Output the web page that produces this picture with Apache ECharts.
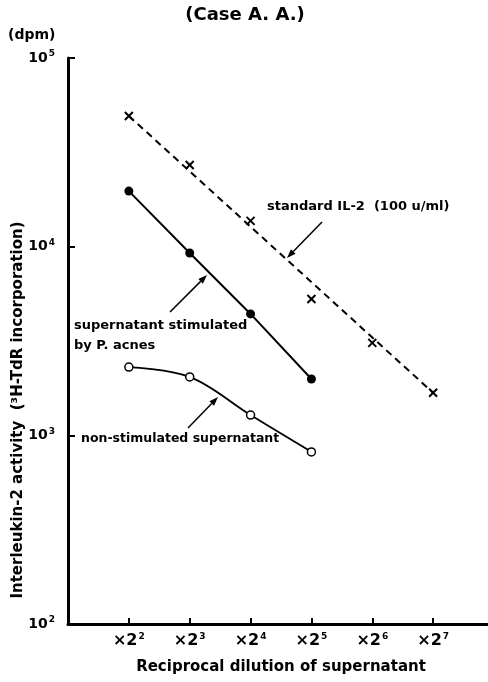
<!DOCTYPE html>
<html>
<head>
<meta charset="utf-8">
<script src="https://cdn.jsdelivr.net/npm/echarts@6/dist/echarts.min.js"></script>
<style>html,body{margin:0;padding:0;background:#fff}#c{width:488px;height:682px}</style>
</head>
<body>
<div id="c"></div>
<script>
// Tick labels (exponent of 2 for the dilution)
const dilutionExps = ['2', '3', '4', '5', '6', '7'];
// Series values (dpm)
const standardIL2 = [49300, 27100, 13700, 5280, 3090, 1680];
// Straight (fitted) dashed line for the standard, first and last dilution
const standardFitIdx = [0, 5];
const standardFit = [49300, 1680];
const stimulatedPacnes = [19700, 9260, 4400, 1990];
const nonStimulated = [2300, 2040, 1280, 817];
const yTickExps = { 100: '2', 1000: '3', 10000: '4', 100000: '5' };

const FONT = 'DejaVu Sans';

function toPairs(arr) { return arr.map((v, i) => [i, v]); }

const chart = echarts.init(document.getElementById('c'), null, { renderer: 'canvas' });

function arrow(x1, y1, x2, y2) {
  const ang = Math.atan2(y2 - y1, x2 - x1);
  const L = 9, W = 3.2;
  const bx = x2 - L * Math.cos(ang), by = y2 - L * Math.sin(ang);
  const px = -Math.sin(ang) * W, py = Math.cos(ang) * W;
  return [
    { type: 'line', shape: { x1: x1, y1: y1, x2: bx, y2: by }, style: { stroke: '#000', lineWidth: 1.5 } },
    { type: 'polygon', shape: { points: [[x2, y2], [bx + px, by + py], [bx - px, by - py]] }, style: { fill: '#000' } }
  ];
}

const txtStyle = { fill: '#000', font: 'bold 13px "' + FONT + '"' };

const option = {
  animation: false,
  backgroundColor: '#fff',
  grid: { left: 68, right: -6, top: 58, bottom: 58, containLabel: false, outerBoundsMode: 'none' },
  xAxis: {
    type: 'value', min: -1, max: 6, interval: 1,
    axisLine: { show: true, onZero: false, lineStyle: { color: '#000', width: 3 } },
    axisTick: { show: true, inside: true, length: 6, lineStyle: { color: '#000', width: 2 } },
    splitLine: { show: false },
    axisLabel: {
      margin: 8,
      formatter: function (v) {
        if (v < 0 || v >= dilutionExps.length) return '';
        return '{b|×2}{s|' + dilutionExps[v] + '}';
      },
      rich: {
        b: { fontFamily: FONT, fontSize: 16, fontWeight: 'bold', color: '#000' },
        s: { fontFamily: FONT, fontSize: 9, fontWeight: 'bold', color: '#000', verticalAlign: 'top', padding: [0, 0, 8, 1] }
      }
    },
    name: 'Reciprocal dilution of supernatant',
    nameLocation: 'middle', nameGap: 36,
    nameTextStyle: { fontFamily: FONT, fontSize: 15, fontWeight: 'bold', color: '#000' }
  },
  yAxis: {
    type: 'log', logBase: 10, min: 100, max: 100000,
    axisLine: { show: true, onZero: false, lineStyle: { color: '#000', width: 3 } },
    axisTick: { show: true, inside: true, length: 7, lineStyle: { color: '#000', width: 2 } },
    minorTick: { show: false },
    splitLine: { show: false },
    axisLabel: {
      margin: 13,
      formatter: function (v) {
        const e = yTickExps[Math.round(v)];
        return e ? '{b|10}{s|' + e + '}' : '';
      },
      rich: {
        b: { fontFamily: FONT, fontSize: 14, fontWeight: 'bold', color: '#000' },
        s: { fontFamily: FONT, fontSize: 9, fontWeight: 'bold', color: '#000', verticalAlign: 'top', padding: [0, 0, 8, 1] }
      }
    }
  },
  series: [
    {
      name: 'standard IL-2 fit', type: 'line',
      data: standardFitIdx.map((x, i) => [x, standardFit[i]]),
      symbol: 'none', silent: true,
      lineStyle: { color: '#000', width: 2, type: [7, 5] }
    },
    {
      name: 'standard IL-2 (100 u/ml)', type: 'line', data: toPairs(standardIL2),
      symbol: 'path://M0,0L10,10M10,0L0,10', symbolSize: 8,
      itemStyle: { color: '#000', borderColor: '#000', borderWidth: 2 },
      lineStyle: { opacity: 0 }
    },
    {
      name: 'supernatant stimulated by P. acnes', type: 'line', data: toPairs(stimulatedPacnes),
      symbol: 'circle', symbolSize: 9,
      itemStyle: { color: '#000' },
      lineStyle: { color: '#000', width: 2 }
    },
    {
      name: 'non-stimulated supernatant', type: 'line', data: toPairs(nonStimulated),
      symbol: 'circle', symbolSize: 8, smooth: 0.35,
      itemStyle: { color: '#fff', borderColor: '#000', borderWidth: 1.5 },
      lineStyle: { color: '#000', width: 1.8 }
    }
  ],
  graphic: [
    { type: 'text', x: 245, y: 6, style: { text: '(Case A. A.)', align: 'center', fill: '#000', font: 'bold 18px "' + FONT + '"' } },
    { type: 'text', left: 8, top: 28, style: { text: '(dpm)', fill: '#000', font: 'bold 14px "' + FONT + '"' } },
    { type: 'text', x: 18, y: 410, rotation: Math.PI / 2,
      style: { text: 'Interleukin-2 activity  (³H-TdR incorporation)', align: 'center', verticalAlign: 'middle', fill: '#000', font: 'bold 15px "' + FONT + '"' } },
    { type: 'text', left: 267, top: 200, style: Object.assign({ text: 'standard IL-2  (100 u/ml)' }, txtStyle) },
    { type: 'text', left: 74, top: 316, style: Object.assign({ text: 'supernatant stimulated\nby P. acnes', lineHeight: 20 }, txtStyle) },
    { type: 'text', left: 81, top: 432, style: { text: 'non-stimulated supernatant', fill: '#000', font: 'bold 12.5px "' + FONT + '"' } }
  ]
    .concat(arrow(322, 222, 287, 258))
    .concat(arrow(170, 312, 207, 275))
    .concat(arrow(188, 428, 218, 397))
};
chart.setOption(option);
</script>
</body>
</html>
